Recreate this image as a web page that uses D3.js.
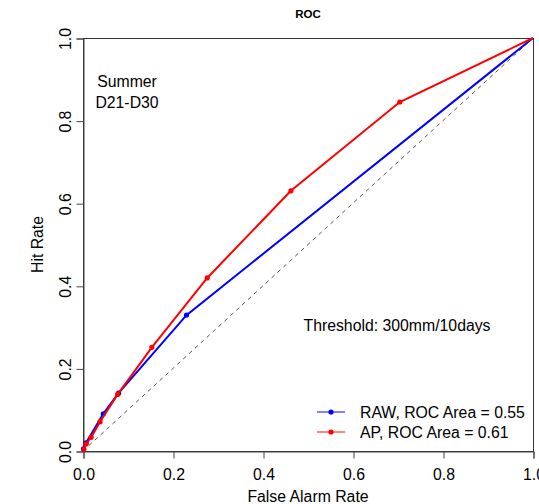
<!DOCTYPE html>
<html>
<head>
<meta charset="utf-8">
<script src="https://cdn.jsdelivr.net/npm/d3@7"></script>
<style>
  body { margin: 0; background: #fff; }
  svg text { font-family: "Liberation Sans", Arial, sans-serif; fill: #000; }
  .tick text { font-size: 15.8px; }
</style>
</head>
<body>
<div id="graph"></div>
<script>
const rawFar = [0, 0.001, 0.007, 0.045, 0.079, 0.230, 1];
const rawHit = [0, 0.005, 0.020, 0.090, 0.140, 0.329, 1];
const apFar = [0, 0.002, 0.007, 0.018, 0.038, 0.077, 0.153, 0.276, 0.462, 0.704, 1];
const apHit = [0, 0.004, 0.017, 0.033, 0.071, 0.137, 0.251, 0.419, 0.630, 0.845, 1];
const ticks = [0, 0.2, 0.4, 0.6, 0.8, 1.0];
const legendLabels = ['RAW, ROC Area = 0.55', 'AP, ROC Area = 0.61'];
const seriesColors = ['#0000ff', '#ff0000'];

const w = 539;
const h = 504;
const padding_left = 83;
const padding_right = 6;
const padding_top = 38;
const padding_bottom = 53;

const svg = d3.select('#graph')
       .append('svg')
       .attr('width', w)
       .attr('height', h);

const xScale = d3.scaleLinear()
       .domain([0, 1])
       .range([padding_left, w - padding_right]);
const yScale = d3.scaleLinear()
       .domain([0, 1])
       .range([h - padding_bottom, padding_top]);

//box
svg.append('rect')
       .attr('x', xScale(0) + 0.5)
       .attr('y', yScale(1) + 0.5)
       .attr('width', xScale(1) - xScale(0))
       .attr('height', yScale(0) - yScale(1))
       .attr('fill', 'none')
       .attr('stroke', '#333')
       .attr('stroke-width', 1);

const xAxis = d3.axisBottom(xScale)
       .tickValues(ticks)
       .tickFormat(d3.format('.1f'))
       .tickSize(7)
       .tickPadding(5);
const yAxis = d3.axisLeft(yScale)
       .tickValues(ticks)
       .tickFormat(d3.format('.1f'))
       .tickSize(7);

//x-Axis
const gx = svg.append('g')
       .attr('transform', 'translate(0.5,' + (yScale(0) + 0.5) + ')')
       .call(xAxis);
gx.select('.domain').attr('stroke', '#444');
gx.selectAll('.tick line').attr('stroke', '#444');
gx.selectAll('.tick text').attr('fill', '#000').attr('dy', '1.02em');

//y-Axis
const gy = svg.append('g')
       .attr('transform', 'translate(' + (xScale(0) + 0.5) + ',0.5)')
       .call(yAxis);
gy.select('.domain').attr('stroke', '#444');
gy.selectAll('.tick line').attr('stroke', '#444');
gy.selectAll('.tick text')
       .attr('fill', '#000')
       .attr('x', null)
       .attr('dy', null)
       .attr('text-anchor', 'middle')
       .attr('transform', 'translate(-13,0) rotate(-90)');

//diagonal
svg.append('line')
       .attr('x1', xScale(0)).attr('y1', yScale(0))
       .attr('x2', xScale(1)).attr('y2', yScale(1))
       .attr('stroke', '#555')
       .attr('stroke-width', 1)
       .attr('stroke-dasharray', '4,4');

//curves
const series = [
       rawFar.map((d, i) => [d, rawHit[i]]),
       apFar.map((d, i) => [d, apHit[i]])
];
const line = d3.line()
       .x(d => xScale(d[0]))
       .y(d => yScale(d[1]));

series.forEach((pts, k) => {
       svg.append('path')
              .datum(pts)
              .attr('d', line)
              .attr('fill', 'none')
              .attr('stroke', seriesColors[k])
              .attr('stroke-width', 2);
       svg.selectAll('.pt' + k)
              .data(pts.slice(1, pts.length - 1))
              .enter()
              .append('circle')
              .attr('class', 'pt' + k)
              .attr('cx', d => xScale(d[0]))
              .attr('cy', d => yScale(d[1]))
              .attr('r', 2.6)
              .attr('fill', seriesColors[k]);
});

//title
svg.append('text')
       .text('ROC')
       .attr('x', (xScale(0) + xScale(1)) / 2)
       .attr('y', 18)
       .attr('text-anchor', 'middle')
       .attr('font-weight', 'bold')
       .attr('font-size', '11.5px');

//x-label
svg.append('text')
       .text('False Alarm Rate')
       .attr('x', (xScale(0) + xScale(1)) / 2)
       .attr('y', 502)
       .attr('text-anchor', 'middle')
       .attr('font-size', '15.8px');

//y-label
svg.append('text')
       .text('Hit Rate')
       .attr('transform', 'translate(43,' + (yScale(0.5)) + ') rotate(-90)')
       .attr('text-anchor', 'middle')
       .attr('font-size', '15.8px');

//annotations
svg.append('text')
       .text('Summer')
       .attr('x', 127)
       .attr('y', 87)
       .attr('text-anchor', 'middle')
       .attr('font-size', '15.8px');
svg.append('text')
       .text('D21-D30')
       .attr('x', 127)
       .attr('y', 108)
       .attr('text-anchor', 'middle')
       .attr('font-size', '15.8px');
svg.append('text')
       .text('Threshold: 300mm/10days')
       .attr('x', 397)
       .attr('y', 331)
       .attr('text-anchor', 'middle')
       .attr('font-size', '15.8px');

//legend
legendLabels.forEach((lab, k) => {
       const ly = 412 + k * 20;
       svg.append('line')
              .attr('x1', 317).attr('x2', 345)
              .attr('y1', ly).attr('y2', ly)
              .attr('stroke', seriesColors[k])
              .attr('stroke-opacity', 0.75)
              .attr('stroke-width', 1.3);
       svg.append('circle')
              .attr('cx', 331).attr('cy', ly)
              .attr('r', 2.6)
              .attr('fill', seriesColors[k]);
       svg.append('text')
              .text(lab)
              .attr('x', 360)
              .attr('y', ly + 5.5)
              .attr('font-size', '15.8px');
});
</script>
</body>
</html>
